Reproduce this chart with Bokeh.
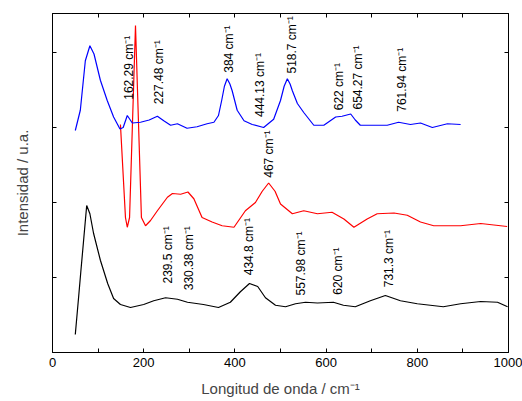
import math
from bokeh.plotting import figure
from bokeh.models import Range1d, LinearAxis, FixedTicker, ColumnDataSource, CustomJSTickFormatter
from bokeh.core.properties import value
from bokeh.embed import file_html
from bokeh.resources import INLINE

# --- data (wavenumber / cm^-1, intensity in arbitrary units) ---
black_x = [50, 57, 62, 68, 75, 82, 90, 105, 121, 134, 149, 171, 200, 222, 248,
           274, 296, 331, 364, 390, 412, 432, 450, 467, 489, 511, 533, 555, 581,
           616, 638, 664, 697, 730, 763, 800, 857, 895, 939, 976, 998]
black_y = [0.24, 0.72, 1.07, 1.48, 1.96, 1.85, 1.59, 1.23, 0.92, 0.72, 0.64, 0.60,
           0.64, 0.69, 0.73, 0.71, 0.67, 0.64, 0.60, 0.67, 0.81, 0.92, 0.88, 0.73,
           0.63, 0.61, 0.65, 0.67, 0.66, 0.67, 0.63, 0.61, 0.69, 0.76, 0.69, 0.65,
           0.61, 0.65, 0.68, 0.67, 0.61]

red_x = [149, 160, 164, 169, 182, 195, 204, 215, 230, 252, 263, 281, 297, 310, 328,
         350, 372, 398, 423, 445, 460, 474, 488, 500, 526, 551, 581, 613, 639, 661,
         690, 712, 749, 778, 807, 836, 895, 939, 997]
red_y = [3.04, 1.80, 1.67, 1.80, 4.36, 1.80, 1.69, 1.76, 1.89, 2.07, 2.12, 2.11,
         2.14, 2.05, 1.80, 1.74, 1.69, 1.67, 1.89, 2.00, 2.15, 2.26, 2.15, 1.98,
         1.85, 1.89, 1.85, 1.87, 1.78, 1.67, 1.78, 1.85, 1.86, 1.83, 1.74, 1.69,
         1.69, 1.72, 1.68]

blue_x = [50, 61, 72, 82, 91, 105, 120, 134, 148, 155, 164, 175, 193, 212, 230,
          244, 259, 274, 295, 317, 339, 354, 364, 371, 377, 383, 389, 394, 405, 420,
          438, 463, 485, 500, 508, 515, 521, 526, 537, 551, 573, 595, 621, 635, 654,
          664, 675, 734, 759, 785, 807, 833, 866, 895]
blue_y = [2.96, 3.23, 3.89, 4.09, 3.98, 3.63, 3.36, 3.14, 2.98, 3.00, 3.16, 3.06,
          3.07, 3.10, 3.15, 3.09, 3.03, 3.05, 2.99, 3.01, 3.05, 3.07, 3.16, 3.36,
          3.55, 3.65, 3.58, 3.49, 3.23, 3.09, 3.04, 3.00, 3.11, 3.36, 3.55, 3.65,
          3.58, 3.49, 3.32, 3.20, 3.03, 3.03, 3.14, 3.15, 3.18, 3.10, 3.03, 3.03,
          3.07, 3.04, 3.06, 3.00, 3.05, 3.04]

label_text = ["162.29 cm⁻¹", "227.48 cm⁻¹", "384 cm⁻¹", "444.13 cm⁻¹", "518.7 cm⁻¹",
              "622 cm⁻¹", "654.27 cm⁻¹", "761.94 cm⁻¹", "467 cm⁻¹",
              "239.5 cm⁻¹", "330.38 cm⁻¹", "434.8 cm⁻¹", "557.98 cm⁻¹", "620 cm⁻¹",
              "731.3 cm⁻¹"]
label_x = [166.7, 232.5, 388, 456, 526, 629, 669, 767.5, 473.7,
           254, 300, 430, 546, 625, 737]
label_y = [3.37, 3.31, 3.73, 3.14, 3.72, 3.23, 3.24, 3.21, 2.33,
           0.92, 0.83, 1.03, 0.76, 0.77, 0.87]

x_major = [0, 200, 400, 600, 800, 1000]
x_minor = [100, 300, 500, 700, 900]
y_ticks = [1, 2, 3, 4]

FONT = "Liberation Sans"

p = figure(width=522, height=401, output_backend="svg", toolbar_location=None,
           x_range=Range1d(0, 1000), y_range=Range1d(0, 4.52),
           x_axis_location=None, y_axis_location=None,
           min_border_left=52, min_border_right=14, min_border_top=13,
           min_border_bottom=49)
p.xgrid.visible = False
p.ygrid.visible = False
p.outline_line_color = "black"
p.outline_line_width = 1
p.background_fill_color = "white"
p.border_fill_color = "white"

blank = CustomJSTickFormatter(code="return ''")

def style_x(ax, labels):
    ax.ticker = FixedTicker(ticks=x_major, minor_ticks=x_minor)
    ax.major_tick_in = 4
    ax.major_tick_out = 0
    ax.minor_tick_in = 4
    ax.minor_tick_out = 0
    ax.axis_line_color = "black"
    ax.major_tick_line_color = "black"
    ax.minor_tick_line_color = "black"
    if labels:
        ax.major_label_text_font = FONT
        ax.major_label_text_font_size = "13px"
        ax.major_label_text_color = "black"
        ax.major_label_standoff = 5
    else:
        ax.formatter = blank
        ax.major_label_standoff = 0

def style_y(ax):
    ax.ticker = FixedTicker(ticks=y_ticks, minor_ticks=[])
    ax.major_tick_in = 4
    ax.major_tick_out = 0
    ax.minor_tick_in = 0
    ax.minor_tick_out = 0
    ax.axis_line_color = "black"
    ax.major_tick_line_color = "black"
    ax.formatter = blank
    ax.major_label_standoff = 0

xb = LinearAxis(axis_label="Longitud de onda / cm⁻¹")
style_x(xb, True)
xb.axis_label_text_font = FONT
xb.axis_label_text_font_size = "15px"
xb.axis_label_text_font_style = "normal"
xb.axis_label_standoff = 10
p.add_layout(xb, "below")

xt = LinearAxis()
style_x(xt, False)
p.add_layout(xt, "above")

yl = LinearAxis(axis_label="Intensidad / u.a.")
style_y(yl)
yl.axis_label_text_font = FONT
yl.axis_label_text_font_size = "15px"
yl.axis_label_text_font_style = "normal"
yl.axis_label_standoff = 22
p.add_layout(yl, "left")

yr = LinearAxis()
style_y(yr)
p.add_layout(yr, "right")

p.line(black_x, black_y, line_color="black", line_width=1.2)
p.line(red_x, red_y, line_color="#ff0000", line_width=1.2)
p.line(blue_x, blue_y, line_color="#0000ff", line_width=1.2)

src = ColumnDataSource(dict(x=label_x, y=label_y, t=label_text))
p.text(x="x", y="y", text="t", source=src, angle=math.pi / 2,
       text_align="left", text_baseline="middle",
       text_font=value(FONT), text_font_size="12px", text_color="black")

open("out.html", "w").write(file_html(p, INLINE))
